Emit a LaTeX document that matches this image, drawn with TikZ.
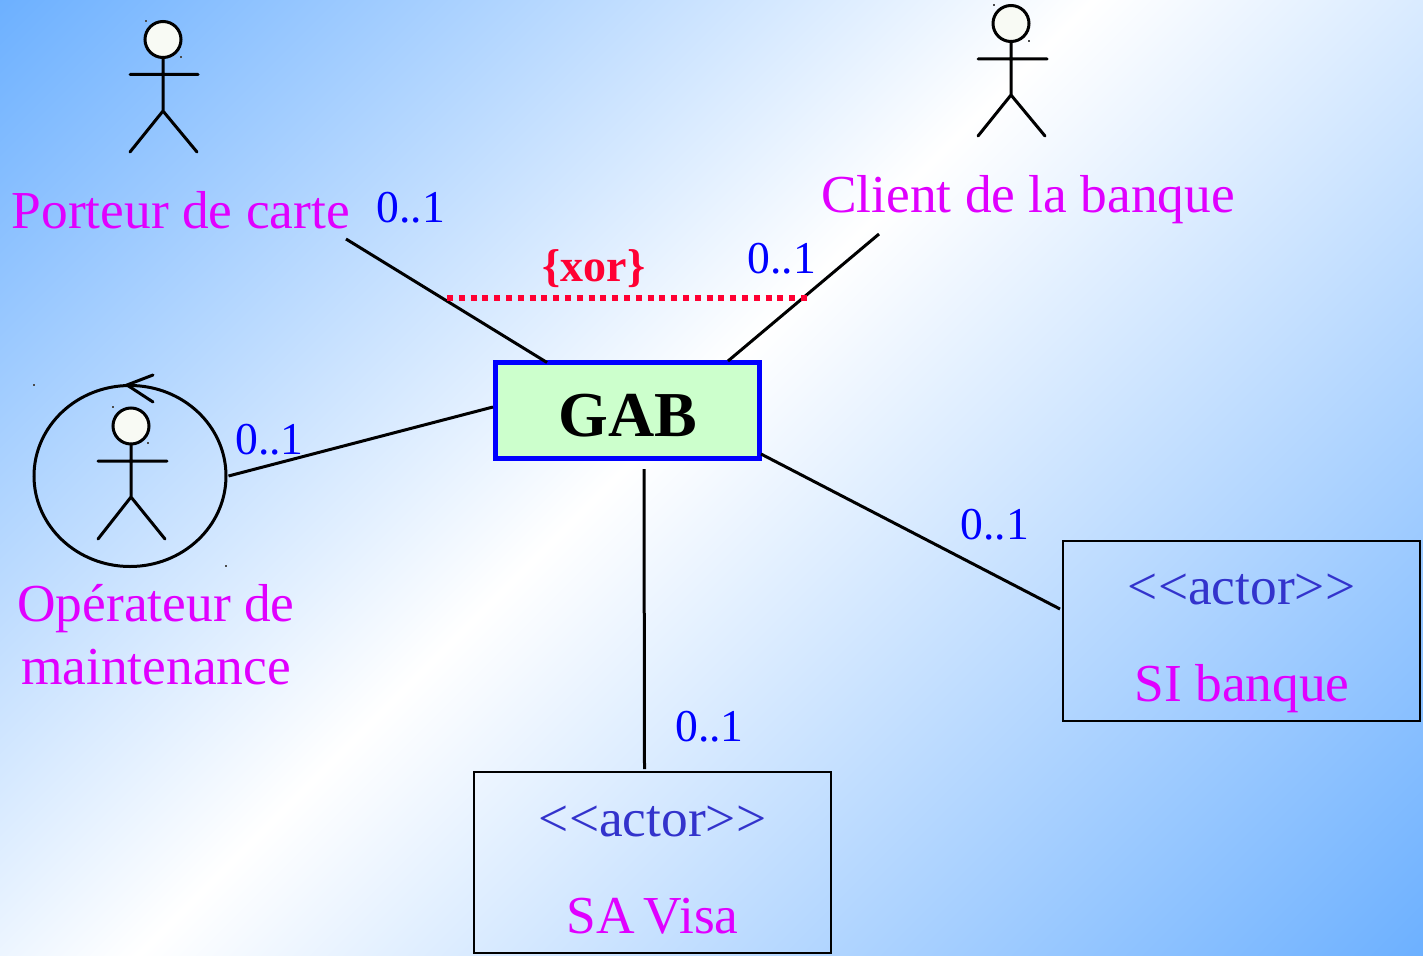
\documentclass[tikz,border=0pt]{standalone}
\usepackage{fontspec}
\setmainfont{Liberation Serif}
\usetikzlibrary{shapes.geometric}
\definecolor{bgblue}{HTML}{6CB0FF}
\definecolor{rolecol}{HTML}{E000FF}
\definecolor{multcol}{HTML}{0000FF}
\definecolor{stereocol}{HTML}{3333CC}
\definecolor{xorcol}{HTML}{FF0033}
\definecolor{gabfill}{HTML}{CCFFCC}
\definecolor{headfill}{HTML}{F8FAF4}
\pgfdeclarehorizontalshading{bgshade}{100bp}{color(0bp)=(bgblue); color(46bp)=(white); color(100bp)=(bgblue)}
\tikzset{
  line/.style={draw=black,line width=3pt},
  stick/.style={draw=black,line width=3pt,line cap=round},
  head/.style={circle,draw=black,line width=3pt,fill=headfill,minimum size=36pt,inner sep=0pt,outer sep=0pt},
  role/.style={text=rolecol,font=\fontsize{53.4}{53.4}\selectfont,inner sep=0pt,anchor=base west},
  rolec/.style={text=rolecol,font=\fontsize{53.4}{53.4}\selectfont,inner sep=0pt,anchor=base},
  mult/.style={text=multcol,font=\fontsize{45.6}{45.6}\selectfont,inner sep=0pt,anchor=base west},
  stereo/.style={text=stereocol,font=\fontsize{53.4}{53.4}\selectfont,inner sep=0pt,anchor=base},
  actorbox/.style={rectangle,draw=black,line width=2.5pt,inner sep=0pt,outer sep=0pt},
  speck/.style={fill=black!70,inner sep=0pt,minimum size=1.5pt,rectangle}
}
\begin{document}
\begin{tikzpicture}[x=1pt,y=-1pt]
\useasboundingbox (0,0) rectangle (1423,955);
\begin{scope}
\clip (0,0) rectangle (1423,955);
\begin{pgfscope}
\pgftransformcm{11.89}{-11.89}{11.89}{11.89}{\pgfpoint{711.5pt}{-477.5pt}}
\pgflowlevelsynccm
\pgftext{\pgfuseshading{bgshade}}
\end{pgfscope}
\end{scope}
% actors
\node[head] (h1) at (163,39.5) {};
\draw[stick] (h1.south) -- (163,111) (130,74.5) -- (198,74.5) (130,152) -- (163,111) -- (197,152);
\node[head] (h2) at (1011,23.5) {};
\draw[stick] (h2.south) -- (1011,95) (978,59) -- (1047,59) (978,136) -- (1011,95) -- (1045,136);
\node[ellipse,draw=black,line width=3pt,minimum width=192pt,minimum height=181pt,inner sep=0pt,outer sep=0pt] (op) at (130,476) {};
\draw[stick] (153,375) -- (127,385) -- (153,402);
\node[head] (h3) at (131,426) {};
\draw[stick] (h3.south) -- (131,497) (98,461) -- (167,461) (98,539) -- (131,497) -- (165,539);
% boxes
\node[rectangle,draw=multcol,line width=5.5pt,fill=gabfill,minimum width=264pt,minimum height=96pt,inner sep=0pt,outer sep=0pt] (gab) at (627.5,410.5) {};
\node[anchor=base,inner sep=0pt,font=\fontsize{64}{64}\selectfont\bfseries] (gabt) at (628,436.5) {GAB};
\node[actorbox,minimum width=357pt,minimum height=180pt] (si) at (1241.5,631) {};
\node[actorbox,minimum width=357pt,minimum height=181pt] (sa) at (652.5,862.5) {};
% labels
\node[role] (l1) at (11.5,228.5) {Porteur de carte};
\node[role] (l2) at (821,212) {Client de la banque};
\node[rolec] (l3) at (156,621) {Opérateur de};
\node[rolec] (l4) at (156,684) {maintenance};
\node[stereo] (s1) at (1241.5,604) {<{}<actor>{}>};
\node[rolec] (s2) at (1242,701) {SI banque};
\node[stereo] (s3) at (652.5,836) {<{}<actor>{}>};
\node[rolec] (s4) at (652.5,933) {SA\kern-4pt\ Visa};
\node[mult] (m1) at (376.5,222) {0..1};
\node[mult] (m2) at (747.5,273) {0..1};
\node[mult] (m3) at (235,454) {0..1};
\node[mult] (m4) at (960.5,539) {0..1};
\node[mult] (m5) at (675,741.5) {0..1};
\node[anchor=base west,inner sep=0pt,text=xorcol,font=\fontsize{46}{46}\selectfont\bfseries] (xt) at (542.5,281.5) {\{xor\}};
% connector ends
\coordinate (c1) at (346,239);
\coordinate (c2) at (879,234);
\coordinate (x1) at (447,297.5);
\coordinate (x2) at (807,297.5);
\draw[line] (c1) -- ([xshift=51.5pt]gab.north west);
\draw[line] (c2) -- ([xshift=232.5pt,yshift=1.5pt]gab.north west);
\draw[line] ([xshift=2.5pt]op.east) -- ([xshift=-2.5pt,yshift=3.5pt]gab.west);
\draw[line] ([xshift=1.5pt,yshift=4.5pt]gab.south east) -- ([xshift=-3pt,yshift=22pt]si.west);
\draw[line] ([xshift=16.5pt,yshift=-10.5pt]gab.south) -- ([xshift=-8pt,yshift=3pt]sa.north);
\draw[draw=xorcol,line width=6pt,dash pattern=on 6pt off 5.8pt] (x1) -- (x2);
% specks
\node[speck] (d1) at (34,385) {};
\node[speck] (d2) at (113,407) {};
\node[speck] (d3) at (148,443) {};
\node[speck] (d4) at (226,566) {};
\node[speck] (d5) at (146,21) {};
\node[speck] (d6) at (181,57) {};
\node[speck] (d7) at (994,5) {};
\node[speck] (d8) at (1029,41) {};
\end{tikzpicture}
\end{document}
